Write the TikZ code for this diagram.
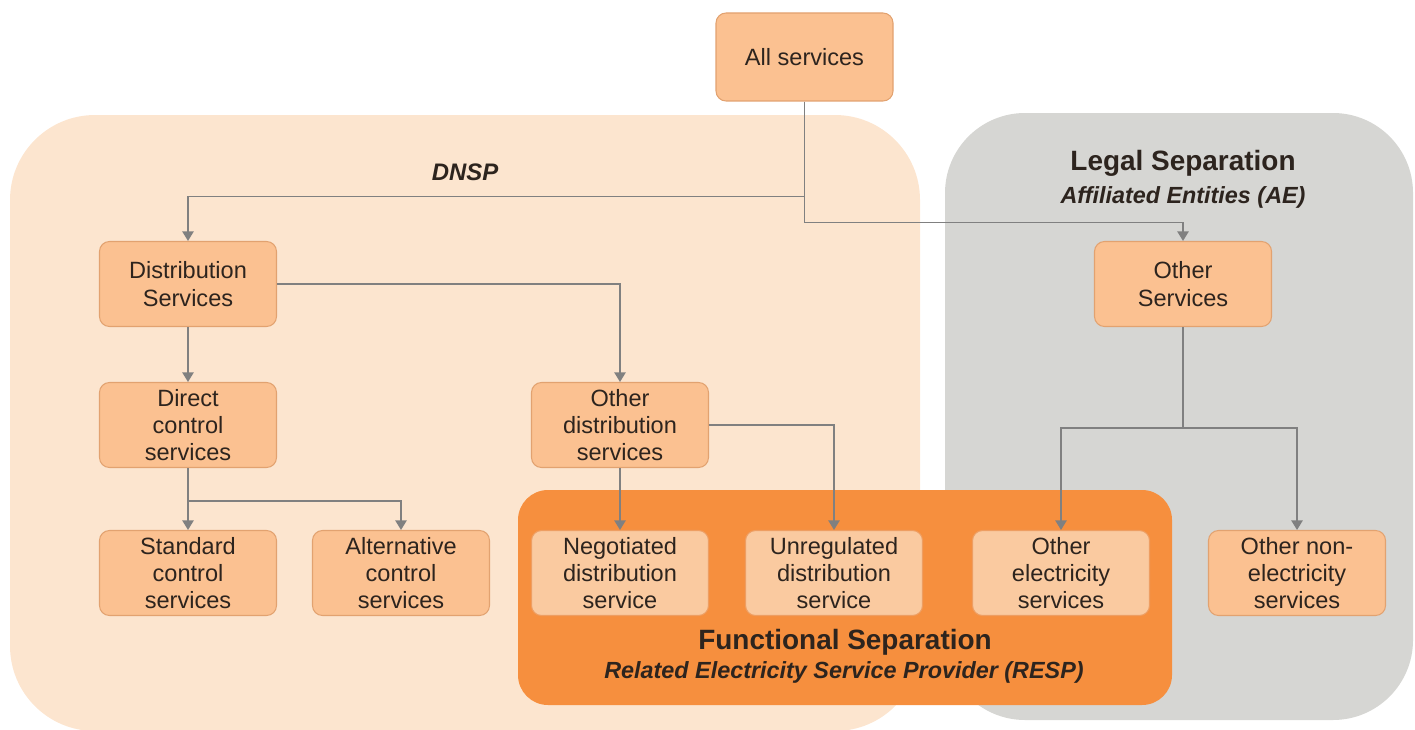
\documentclass[tikz,border=0pt]{standalone}
\usepackage{fontspec}
\setmainfont{Liberation Sans}
\usetikzlibrary{arrows.meta}

\definecolor{dnspbg}{RGB}{252,229,207}
\definecolor{legalbg}{RGB}{214,214,211}
\definecolor{funcbg}{RGB}{246,143,62}
\definecolor{svcfill}{RGB}{251,193,145}
\definecolor{svcdraw}{RGB}{226,162,112}
\definecolor{respfill}{RGB}{250,202,160}
\definecolor{respdraw}{RGB}{238,158,98}
\definecolor{linkgray}{RGB}{128,128,128}
\definecolor{txt}{RGB}{45,36,30}

\tikzset{
  svc/.style={draw=svcdraw,fill=svcfill,line width=0.6pt,rounded corners=0.2cm,
    minimum width=3.54cm,minimum height=1.70cm,inner sep=0pt,align=center,
    text=txt,font=\fontsize{13.4}{15.6}\selectfont},
  respsvc/.style={svc,draw=respdraw,fill=respfill},
  link/.style={->,draw=linkgray,line width=0.85pt},
  title/.style={text=txt,font=\bfseries\fontsize{15.9}{18}\selectfont},
  subtitle/.style={text=txt,font=\bfseries\itshape\fontsize{13.3}{15}\selectfont}
}

\begin{document}
\begin{tikzpicture}[>={Triangle[length=5.5pt,width=6.5pt]},node distance=2.96cm]
    \useasboundingbox (0,0) rectangle (28.3,-14.58);

    % regions
    \fill[dnspbg,rounded corners=1.7cm] (0.20,-2.30) rectangle (18.40,-14.62);
    \fill[legalbg,rounded corners=1.6cm] (18.90,-2.26) rectangle (28.26,-14.40);
    \fill[funcbg,rounded corners=0.6cm] (10.36,-9.80) rectangle (23.44,-14.10);

    \node[subtitle,font=\bfseries\itshape\fontsize{13.6}{15}\selectfont] (dnsp) at (9.30,-3.44) {DNSP};
    \node[title] (legal) at (23.66,-3.26) {Legal Separation};
    \node[subtitle] (ae) at (23.66,-3.94) {Affiliated Entities (AE)};
    \node[title] (func) at (16.90,-12.84) {Functional Separation};
    \node[subtitle] (resp) at (16.88,-13.44) {Related Electricity Service Provider (RESP)};

    % services
    \node[svc,minimum height=1.76cm] (all) at (16.09,-1.14) {All services};
    \node[svc] (dist) at (3.76,-5.68) {Distribution\\Services};
    \node[svc,node distance=2.82cm] (direct) [below of = dist] {Direct\\control\\services};
    \node[svc] (std) [below of = direct] {Standard\\control\\services};
    \node[svc,node distance=4.26cm] (alt) [right of = std] {Alternative\\control\\services};
    \node[svc,node distance=8.64cm] (odist) [right of = direct] {Other\\distribution\\services};
    \node[respsvc] (neg) [below of = odist] {Negotiated\\distribution\\service};
    \node[respsvc,node distance=4.28cm] (unreg) [right of = neg] {Unregulated\\distribution\\service};
    \node[respsvc,node distance=4.54cm] (oelec) [right of = unreg] {Other\\electricity\\services};
    \node[svc] (oths) at (23.66,-5.68) {Other\\Services};
    \node[svc,node distance=4.72cm] (onon) [right of = oelec] {Other non-\\electricity\\services};

    \draw[link] (all.south) -- ++(0,-1.90) -| (dist.north);
    \draw[link] (all.south) -- ++(0,-2.42) -| (oths.north);

    \draw[link] (dist.east) -| (odist.north);
    \draw[link] (dist) -- (direct);

    \draw[link] (direct) -- (std);
    \draw[link] (direct.south) -- ++(0,-0.66) -| (alt.north);

    \draw[link] (odist) -- (neg);
    \draw[link] (odist.east) -| (unreg.north);

    \draw[link] (oths.south) -- ++(0,-2.02) -| (oelec.north);
    \draw[link] (oths.south) -- ++(0,-2.02) -| (onon.north);

\end{tikzpicture}
\end{document}
